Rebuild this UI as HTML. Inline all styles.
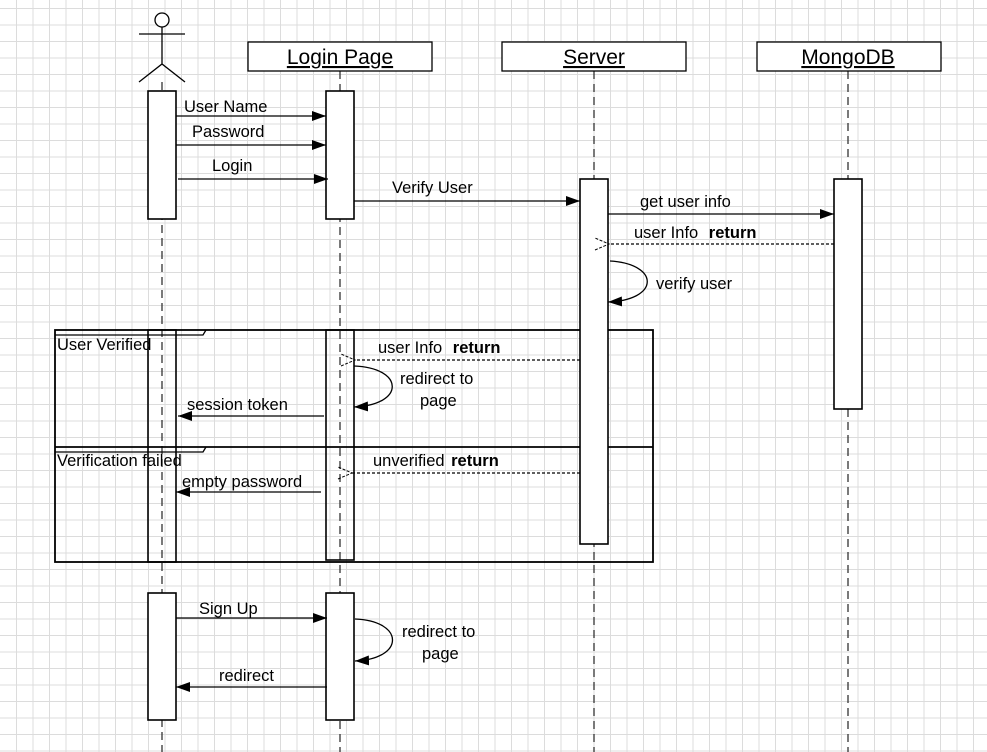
<!DOCTYPE html>
<html><head><meta charset="utf-8"><style>
html,body{margin:0;padding:0;background:#fff}
svg{display:block}
text{font-family:"Liberation Sans",sans-serif;font-size:16.5px;fill:#000}
text.h{font-size:21px;text-decoration:underline}
</style></head><body>
<svg width="987" height="752" viewBox="0 0 987 752" xmlns="http://www.w3.org/2000/svg">
<defs>
<marker id="a" markerWidth="14" markerHeight="10" refX="14" refY="5" orient="auto" markerUnits="userSpaceOnUse"><path d="M0 0L14 5L0 10Z" fill="#000"/></marker>
<marker id="o" markerWidth="16" markerHeight="14" refX="1" refY="7" orient="auto" markerUnits="userSpaceOnUse"><path d="M15 1L1 7L15 13" fill="none" stroke="#000" stroke-width="1" stroke-dasharray="3 1.5"/></marker>
</defs>
<g id="grid" stroke="#dcdcdc" stroke-width="1">
<path d="M16.5 0V752M33 0V752M49.5 0V752M66 0V752M82.5 0V752M99 0V752M115.5 0V752M132 0V752M148.5 0V752M165 0V752M181.5 0V752M198 0V752M214.5 0V752M231 0V752M247.5 0V752M264 0V752M280.5 0V752M297 0V752M313.5 0V752M330 0V752M346.5 0V752M363 0V752M379.5 0V752M396 0V752M412.5 0V752M429 0V752M445.5 0V752M462 0V752M478.5 0V752M495 0V752M511.5 0V752M528 0V752M544.5 0V752M561 0V752M577.5 0V752M594 0V752M610.5 0V752M627 0V752M643.5 0V752M660 0V752M676.5 0V752M693 0V752M709.5 0V752M726 0V752M742.5 0V752M759 0V752M775.5 0V752M792 0V752M808.5 0V752M825 0V752M841.5 0V752M858 0V752M874.5 0V752M891 0V752M907.5 0V752M924 0V752M940.5 0V752M957 0V752M973.5 0V752"/>
<path d="M0 8.5H987M0 25H987M0 41.5H987M0 58H987M0 74.5H987M0 91H987M0 107.5H987M0 124H987M0 140.5H987M0 157H987M0 173.5H987M0 190H987M0 206.5H987M0 223H987M0 239.5H987M0 256H987M0 272.5H987M0 289H987M0 305.5H987M0 322H987M0 338.5H987M0 355H987M0 371.5H987M0 388H987M0 404.5H987M0 421H987M0 437.5H987M0 454H987M0 470.5H987M0 487H987M0 503.5H987M0 520H987M0 536.5H987M0 553H987M0 569.5H987M0 586H987M0 602.5H987M0 619H987M0 635.5H987M0 652H987M0 668.5H987M0 685H987M0 701.5H987M0 718H987M0 734.5H987M0 751H987"/>
</g>
<g stroke="#000" stroke-width="1.3" fill="none">
<g stroke-dasharray="8 5" stroke="#333">
<line x1="162" y1="82" x2="162" y2="752"/>
<line x1="340" y1="71" x2="340" y2="752"/>
<line x1="594" y1="71" x2="594" y2="752"/>
<line x1="848" y1="71" x2="848" y2="752"/>
</g>
<circle cx="162" cy="20" r="7" fill="#fff"/>
<path d="M139 34H185M162 27V64M139 82L162 64L185 82"/>
<rect x="248" y="42" width="184" height="29" fill="#fff"/>
<rect x="502" y="42" width="184" height="29" fill="#fff"/>
<rect x="757" y="42" width="184" height="29" fill="#fff"/>
<rect x="55" y="330" width="598" height="232" stroke-width="1.8"/>
<line x1="55" y1="447" x2="653" y2="447" stroke-width="1.8"/>
<path d="M55 335H203L206 330M55 452H203L206 447"/>
<g fill="#fff" stroke-width="1.6">
<rect x="148" y="91" width="28" height="128"/>
<rect x="326" y="91" width="28" height="128"/>
<rect x="580" y="179" width="28" height="365"/>
<rect x="834" y="179" width="28" height="230"/>
<rect x="326" y="593" width="28" height="127"/>
<rect x="148" y="593" width="28" height="127"/>
</g>
<g fill="none" stroke-width="1.6">
<rect x="148" y="330" width="28" height="232"/>
<rect x="326" y="330" width="28" height="230"/>
</g>
<line x1="176" y1="116" x2="326" y2="116" marker-end="url(#a)"/>
<line x1="176" y1="145" x2="326" y2="145" marker-end="url(#a)"/>
<line x1="178" y1="179" x2="328" y2="179" marker-end="url(#a)"/>
<line x1="354" y1="201" x2="580" y2="201" marker-end="url(#a)"/>
<line x1="608" y1="214" x2="834" y2="214" marker-end="url(#a)"/>
<line x1="834" y1="244" x2="609" y2="244" stroke-dasharray="3 2" marker-end="url(#o)"/>
<path d="M610 261C660 264 660 300 608 302" marker-end="url(#a)"/>
<line x1="580" y1="360" x2="355" y2="360" stroke-dasharray="3 2" marker-end="url(#o)"/>
<path d="M354 366C405 368 405 405 354 407" marker-end="url(#a)"/>
<line x1="324" y1="416" x2="178" y2="416" marker-end="url(#a)"/>
<line x1="580" y1="473" x2="352" y2="473" stroke-dasharray="3 2" marker-end="url(#o)"/>
<line x1="321" y1="492" x2="176" y2="492" marker-end="url(#a)"/>
<line x1="176" y1="618" x2="327" y2="618" marker-end="url(#a)"/>
<path d="M355 619C405 621 405 659 355 661" marker-end="url(#a)"/>
<line x1="327" y1="687" x2="176" y2="687" marker-end="url(#a)"/>
</g>
<text class="h" x="340" y="64" text-anchor="middle">Login Page</text>
<text class="h" x="594" y="64" text-anchor="middle">Server</text>
<text class="h" x="848" y="64" text-anchor="middle">MongoDB</text>
<text x="184" y="112">User Name</text>
<text x="192" y="137">Password</text>
<text x="212" y="171">Login</text>
<text x="392" y="193">Verify User</text>
<text x="640" y="207">get user info</text>
<text x="634" y="238">user Info <tspan font-weight="bold" dx="6">return</tspan></text>
<text x="656" y="289">verify user</text>
<text x="57" y="350">User Verified</text>
<text x="378" y="353">user Info <tspan font-weight="bold" dx="6">return</tspan></text>
<text x="400" y="384">redirect to</text>
<text x="420" y="406">page</text>
<text x="187" y="410">session token</text>
<text x="57" y="466">Verification failed</text>
<text x="373" y="466">unverified <tspan font-weight="bold" dx="2">return</tspan></text>
<text x="182" y="487">empty password</text>
<text x="199" y="614">Sign Up</text>
<text x="402" y="637">redirect to</text>
<text x="422" y="659">page</text>
<text x="219" y="681">redirect</text>
</svg>
</body></html>
